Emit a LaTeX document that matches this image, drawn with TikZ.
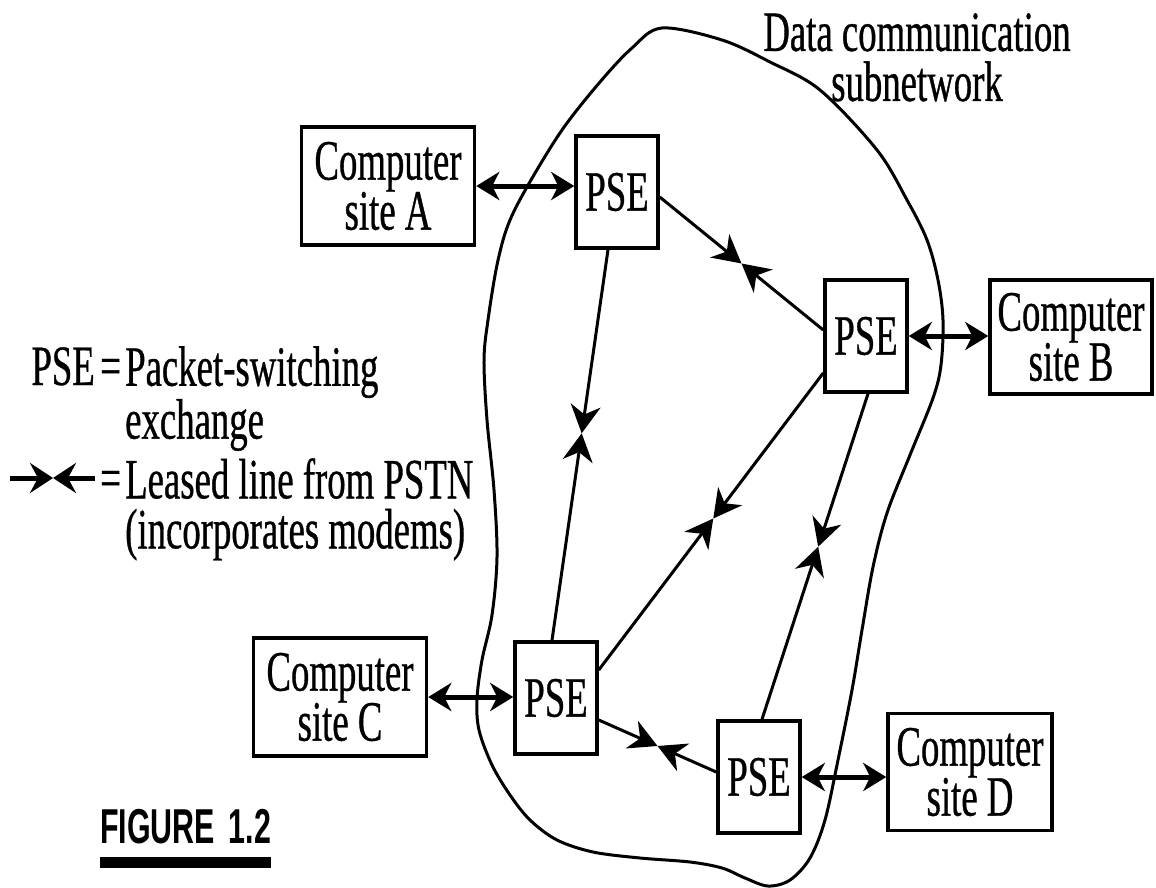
\documentclass[tikz,border=0pt]{standalone}
\usepackage{fontspec}
\newfontfamily\tnr[FakeStretch=0.645,FakeBold=0.6]{Liberation Serif}
\newfontfamily\hel[FakeStretch=0.62]{Liberation Sans}
\usetikzlibrary{arrows.meta,calc}
\begin{document}
\begin{tikzpicture}[x=1pt,y=-1pt,
  txt/.style={inner sep=0pt,font=\tnr\fontsize{57}{50}\selectfont},
  site/.style={txt,draw,line width=3.5pt,fill=white,align=center,minimum width=173pt,minimum height=118pt},
  pse/.style={txt,draw,line width=3.5pt,fill=white,minimum width=82pt,minimum height=112pt},
  dbl/.style={line width=5pt,{Stealth[length=23pt,width=28pt,inset=7pt]}-{Stealth[length=23pt,width=28pt,inset=7pt]}},
  half/.style={line width=3pt,-{Stealth[length=28pt,width=30pt,inset=9pt]}},
  lhalf/.style={line width=5pt,-{Stealth[length=23pt,width=30pt,inset=8pt]}},
  blob/.style={line width=3pt,line join=round}]
\useasboundingbox (0,0) rectangle (1156,888);
% subnetwork outline
\draw[blob] plot[smooth cycle,tension=0.55] coordinates {
 (662,28) (722,40) (770,62) (820,90) (877,150) (907,200) (927,240) (938,280)
 (943,320) (941,365) (933,398) (910,455) (887,513) (873,567) (862,630) (852,690)
 (838,760) (825,820) (810,858) (790,880) (768,886) (745,878) (722,868) (690,862)
 (640,858) (593,852) (557,840) (530,820) (510,795) (492,765) (479,730) (477,699)
 (482,660) (492,615) (497,557) (494,490) (487,420) (484,360) (488,320) (497,265)
 (508,225) (527,187) (562,130) (600,82) (632,48)};
\node[txt,align=center,anchor=north] (title) at (917,13) {Data communication\\subnetwork};
% nodes
\node[site] (A) at (388,186) {Computer\\site A};
\node[site,minimum width=162pt,minimum height=114pt] (B) at (1071,337) {Computer\\site B};
\node[site] (C) at (340,697) {Computer\\site C};
\node[site,minimum width=164pt,minimum height=117pt] (D) at (970,772) {Computer\\site D};
\node[pse] (p1) at (617,192) {PSE};
\node[pse] (p2) at (866,336) {PSE};
\node[pse] (p3) at (556,698) {PSE};
\node[pse] (p4) at (759,777) {PSE};
% access links
\draw[dbl] (A.east) -- (A.east -| p1.west);
\draw[dbl] (p2.east) -- (p2.east -| B.west);
\draw[dbl] (C.east) -- (C.east -| p3.west);
\draw[dbl] (p4.east) -- (p4.east -| D.west);
% leased lines
\coordinate (a12) at ($(p1.east)+(0,5)$);
\coordinate (b12) at ($(p2.west)+(0,-6)$);
\coordinate (m12) at ($(a12)!0.5!(b12)$);
\draw[half] (a12) -- (m12); \draw[half] (b12) -- (m12);
\coordinate (a13) at ($(p1.south)+(-9,0)$);
\coordinate (b13) at ($(p3.north)+(-4,0)$);
\coordinate (m13) at ($(a13)!0.47!(b13)$);
\draw[half] (a13) -- (m13); \draw[half] (b13) -- (m13);
\coordinate (a23) at ($(p2.west)+(0,37)$);
\coordinate (b23) at ($(p3.east)+(0,-28)$);
\coordinate (m23) at ($(a23)!0.49!(b23)$);
\draw[half] (a23) -- (m23); \draw[half] (b23) -- (m23);
\coordinate (a24) at ($(p2.south)+(2,0)$);
\coordinate (b24) at ($(p4.north)+(3,0)$);
\coordinate (m24) at ($(a24)!0.47!(b24)$);
\draw[half] (a24) -- (m24); \draw[half] (b24) -- (m24);
\coordinate (a34) at ($(p3.east)+(0,22)$);
\coordinate (b34) at ($(p4.west)+(0,-5)$);
\coordinate (m34) at ($(a34)!0.5!(b34)$);
\draw[half] (a34) -- (m34); \draw[half] (b34) -- (m34);
% legend
\node[txt,anchor=base east] (lpse) at (95,385) {PSE};
\node[txt,anchor=base west] (leq1) at (100,385) {=};
\node[txt,anchor=north west,align=left] (ldef1) at (125,346) {Packet-switching\\exchange};
\coordinate (lg1) at (10,478);
\coordinate (lg2) at (95,478);
\coordinate (lgm) at (53,478);
\draw[lhalf] (lg1) -- (lgm); \draw[lhalf] (lg2) -- (lgm);
\node[txt,anchor=base west] (leq2) at (100,497) {=};
\node[txt,anchor=north west,align=left] (ldef2) at (125,458) {Leased line from PSTN\\(incorporates modems)};
% caption
\node[inner sep=0pt,anchor=base west,font=\hel\bfseries\fontsize{49}{50}\selectfont] (fig) at (100,843) {FIGURE\hspace{14pt}1.2};
\fill ($(fig.base west)+(0,14)$) rectangle ($(fig.base east)+(0,25)$);
\end{tikzpicture}
\end{document}
